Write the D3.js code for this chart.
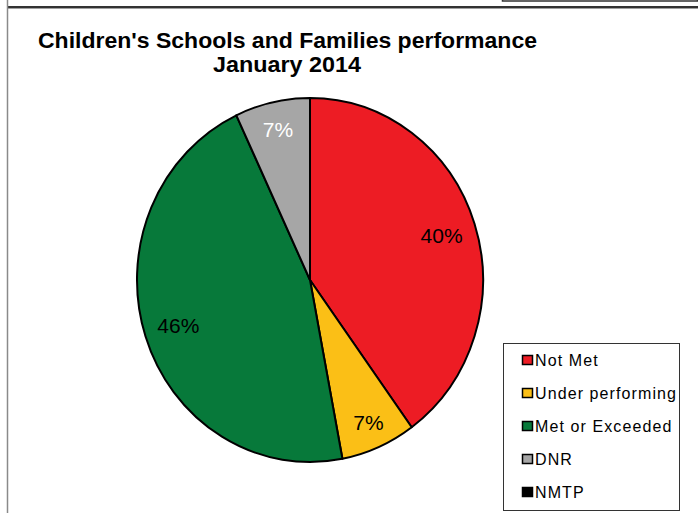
<!DOCTYPE html>
<html>
<head>
<meta charset="utf-8">
<script src="https://cdn.jsdelivr.net/npm/d3@7/dist/d3.min.js"></script>
<style>
  html, body { margin: 0; padding: 0; background: #fff; }
  svg { display: block; font-family: Arial, "Liberation Sans", sans-serif; }
</style>
</head>
<body>
<svg id="chart" width="698" height="513"></svg>
<script>
// Performance categories and their share (percent)
const categories = ["Not Met", "Under performing", "Met or Exceeded", "DNR", "NMTP"];
const values = [40, 7, 46, 7, 0];
const colors = ["#ED1C24", "#FBBF16", "#07793A", "#A6A6A6", "#000000"];
const titleLines = ["Children's Schools and Families performance", "January 2014"];

const svg = d3.select("#chart");
const W = 698, H = 513;

// Frame lines of the chart area
svg.append("line").attr("x1", 7).attr("x2", W).attr("y1", 8.5).attr("y2", 8.5)
  .attr("stroke", "#a0a0a0").attr("stroke-width", 1);
svg.append("line").attr("x1", 7).attr("x2", W).attr("y1", 7).attr("y2", 7)
  .attr("stroke", "#333").attr("stroke-width", 2);
svg.append("line").attr("x1", 7.5).attr("x2", 7.5).attr("y1", 0).attr("y2", H)
  .attr("stroke", "#8a8a8a").attr("stroke-width", 1.5);
svg.append("path").attr("d", `M502.5,0 V1 H697.5 V0`)
  .attr("fill", "none").attr("stroke", "#333").attr("stroke-width", 1.5);

// Title
svg.append("text").attr("x", 287.5).attr("y", 48).attr("text-anchor", "middle")
  .attr("font-size", 22).attr("font-weight", "bold").attr("fill", "#000")
  .attr("textLength", 499).attr("lengthAdjust", "spacingAndGlyphs")
  .text(titleLines[0]);
svg.append("text").attr("x", 287).attr("y", 72).attr("text-anchor", "middle")
  .attr("font-size", 22).attr("font-weight", "bold").attr("fill", "#000")
  .attr("textLength", 148).attr("lengthAdjust", "spacingAndGlyphs")
  .text(titleLines[1]);

// Pie (slightly taller than wide)
const cx = 310, cy = 280, ry = 182, rx = 173;
const data = categories.map((c, i) => ({ name: c, value: values[i], color: colors[i] }));
const pie = d3.pie().sort(null).value(d => d.value);
const arcs = pie(data).filter(a => a.data.value > 0);
const arc = d3.arc().innerRadius(0).outerRadius(ry);

const g = svg.append("g").attr("transform", `translate(${cx},${cy}) scale(${rx / ry},1)`);
g.selectAll("path").data(arcs).enter().append("path")
  .attr("d", arc)
  .attr("fill", d => d.data.color)
  .attr("stroke", "#000").attr("stroke-width", 2)
  .attr("stroke-linejoin", "round")
  .attr("vector-effect", "non-scaling-stroke");

// Percentage labels inside the slices
const total = d3.sum(values);
arcs.forEach(a => {
  const ang = (a.startAngle + a.endAngle) / 2;
  const small = (a.endAngle - a.startAngle) < 0.6;
  const f = small ? 0.85 : 0.8;
  const x = cx + Math.sin(ang) * rx * f;
  const y = cy - Math.cos(ang) * ry * f;
  svg.append("text")
    .attr("x", x).attr("y", y).attr("dy", "0.36em")
    .attr("text-anchor", "middle")
    .attr("font-size", 21)
    .attr("fill", a.data.name === "DNR" ? "#fff" : "#000")
    .text(Math.round(a.data.value / total * 100) + "%");
});

// Legend
const lg = svg.append("g");
lg.append("rect").attr("x", 503.5).attr("y", 343.5).attr("width", 176).attr("height", 167)
  .attr("fill", "#fff").attr("stroke", "#333").attr("stroke-width", 1);
const rowY = d3.scalePoint().domain(categories).range([360, 492]);
categories.forEach((c, i) => {
  const y = rowY(c);
  lg.append("rect").attr("x", 522.5).attr("y", y - 4.5).attr("width", 10).attr("height", 9)
    .attr("fill", colors[i]).attr("stroke", "#000").attr("stroke-width", 1.5);
  lg.append("text").attr("x", 535).attr("y", y).attr("dy", "0.36em")
    .attr("font-size", 16).attr("letter-spacing", "1.1px").attr("fill", "#000")
    .text(c);
});
</script>
</body>
</html>
